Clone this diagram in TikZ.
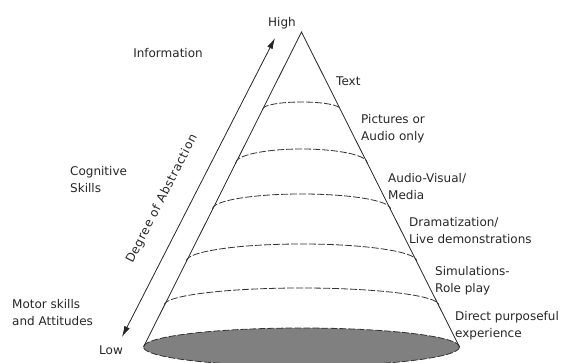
\documentclass[tikz,border=0pt]{standalone}
\usepackage{fontspec}
\setmainfont{DejaVu Sans}
\usetikzlibrary{arrows.meta}
\begin{document}
\begin{tikzpicture}[x=1pt,y=-1pt,
  lbl/.style={font=\fontsize{12}{17}\selectfont, inner sep=0pt, anchor=west, align=left, text=black!85},
  ctr/.style={font=\fontsize{12}{17}\selectfont, inner sep=0pt, text=black!85},
  levelline/.style={dash pattern=on 7pt off 2pt, line width=0.8pt, draw=black!80},
  edge/.style={line width=0.8pt, draw=black!85}]
\useasboundingbox (0,0) rectangle (565,363);
% base ellipse
\begin{scope}
\clip (0,0) rectangle (565,363);
\fill[gray] (301.5,347) ellipse [x radius=158, y radius=19];
\draw[levelline] (301.5,347) ellipse [x radius=158, y radius=19];
\end{scope}
% cone
\coordinate (apex) at (301.5,32);
\coordinate (bl) at (143.5,347);
\coordinate (br) at (459.5,347);
\draw[edge, line join=miter] (bl) -- (apex) -- (br);
% level arcs
\foreach \yy/\rr in {109/7,163/14,209/15,261/17,305/17}{
  \draw[levelline] ({301.5-0.503*(\yy-32)},\yy) arc[start angle=180, end angle=360, x radius={0.503*(\yy-32)}, y radius=\rr];
}
% arrow
\coordinate (ahigh) at (275,38);
\coordinate (alow) at (122,337);
\draw[edge, {Latex[length=11pt,width=6pt]}-{Latex[length=11pt,width=6pt]}] (alow) -- (ahigh);
\node[ctr, rotate=63] (doa) at (162,199) {\addfontfeatures{LetterSpace=5}Degree of Abstraction};
% labels
\node[ctr] (high) at (282,23) {High};
\node[ctr] (low) at (111,350) {Low};
\node[ctr] (info) at (168,53) {Information};
\node[lbl] (cog) at (70,180) {Cognitive\\Skills};
\node[lbl] (motor) at (12,313) {Motor skills\\and Attitudes};
\node[lbl] (text) at (336,81) {Text};
\node[lbl] (pic) at (361,129) {Pictures or\\Audio only};
\node[lbl] (av) at (388,186.5) {Audio-Visual/\\Media};
\node[lbl] (dram) at (409,231) {Dramatization/\\Live demonstrations};
\node[lbl] (sim) at (435,281) {Simulations-\\Role play};
\node[lbl] (dir) at (455,325.5) {Direct purposeful\\experience};
\end{tikzpicture}
\end{document}
